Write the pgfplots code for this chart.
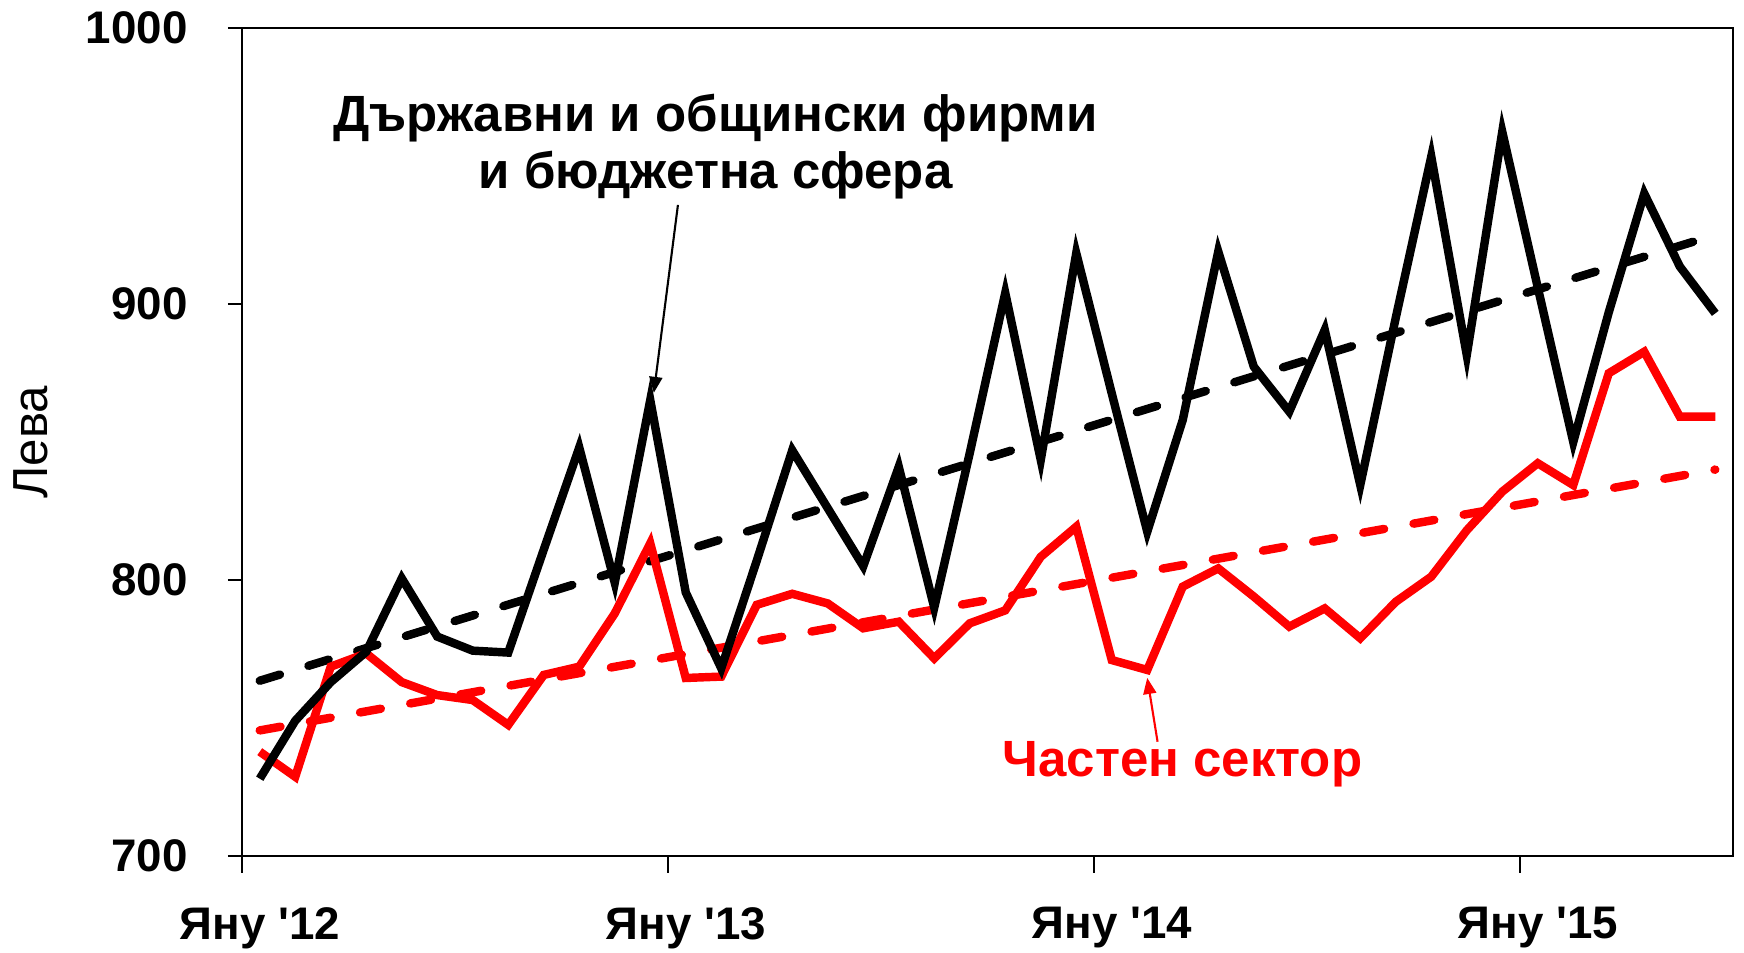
\documentclass[border=0pt]{standalone}
\usepackage{pgfplots}
\usepackage{pgfplotstable}
\pgfplotsset{compat=1.18}
\usepackage{fontspec}
\setmainfont{Liberation Sans}[Ligatures=TeXOff]
\usetikzlibrary{arrows.meta}

% monthly wages, Jan 2012 (m=0) to Jun 2015 (m=41)
\pgfplotstableread{
m  state  private
0  728    737.8
1  749    728.7
2  763    768.6
3  774    773.4
4  800.6  763
5  779.5  758.3
6  774.4  756.5
7  773.7  747.5
8  811    765.6
9  848    768.6
10 799    787.9
11 865.2  813.3
12 795.5  764.5
13 768    765
14 807    791
15 847    795
16 826    791.5
17 805    782.5
18 841    784.9
19 790    771.6
20 846    784.3
21 904    789
22 843.5  808.4
23 918.4  819.3
24 867.6  771
25 817.5  767.4
26 858    797.6
27 919    804.2
28 877.3  794
29 861    783.1
30 890.6  789.7
31 834.4  778.9
32 895    792.1
33 953.4  801.2
34 881.5  818
35 962.4  832
36 906    842.3
37 850    834.4
38 897    874.9
39 940    882.7
40 913.6  859.2
41 896.6  859.2
}\wages

\begin{document}
\begin{tikzpicture}
\begin{axis}[
    at={(0,0)}, anchor=south west,
    scale only axis, width=14.91cm, height=8.28cm,
    xmin=-0.5, xmax=41.5, ymin=700, ymax=1000,
    xtick={0,12,24,36},
    xticklabels={Яну '12, Яну '13, Яну '14, Яну '15},
    minor xtick={-0.5,11.5,23.5,35.5},
    ytick={700,800,900,1000},
    tick align=outside, tick pos=left,
    major tick length=0.14cm, minor tick length=0.17cm,
    major x tick style={draw=none},
    tick style={line width=0.6pt, black},
    axis line style={line width=0.6pt},
    /pgf/number format/assume math mode=true,
    /pgf/number format/1000 sep={},
    ticklabel style={font=\bfseries\fontsize{13}{13}\selectfont},
    yticklabel style={xshift=-0.28cm},
    xticklabel style={yshift=-0.25cm},
    ylabel={Лева},
    every axis y label/.style={at={(axis description cs:-0.1415,0.5)},
        rotate=90, anchor=center, font=\fontsize{14}{14}\selectfont},
    clip=false,
]
\addplot[red, line width=2.4pt, line cap=round, dash pattern=on 6pt off 8.5pt]
    coordinates {(0,745.5) (41,840)};
\addplot[black, line width=2.4pt, line cap=round, dash pattern=on 6pt off 8.5pt]
    coordinates {(0,763.5) (41,925)};
\addplot[red, line width=2.4pt, line join=miter] table[x=m, y=private] {\wages};
\addplot[black, line width=2.4pt, line join=miter] table[x=m, y=state] {\wages};

\node[anchor=base, font=\bfseries\fontsize{14.5}{16}\selectfont]
    at (axis cs:12.84,962.4) {Държавни и общински фирми};
\node[anchor=base, font=\bfseries\fontsize{14.5}{16}\selectfont]
    at (axis cs:12.84,941.9) {и бюджетна сфера};
\draw[line width=0.6pt, -{Triangle[length=1.6mm,width=1.3mm]}]
    (axis cs:11.78,935.9) -- (axis cs:11.1,867.8);

\node[anchor=base, text=red, font=\bfseries\fontsize{14.5}{16}\selectfont]
    at (axis cs:25.99,728.7) {Частен сектор};
\draw[red, line width=0.6pt, -{Triangle[length=1.6mm,width=1.3mm]}]
    (axis cs:25.29,741.4) -- (axis cs:25.0,764.5);
\end{axis}
\pgfresetboundingbox
\useasboundingbox (-2.42,-0.97) rectangle (15.02,8.56);
\end{tikzpicture}
\end{document}
